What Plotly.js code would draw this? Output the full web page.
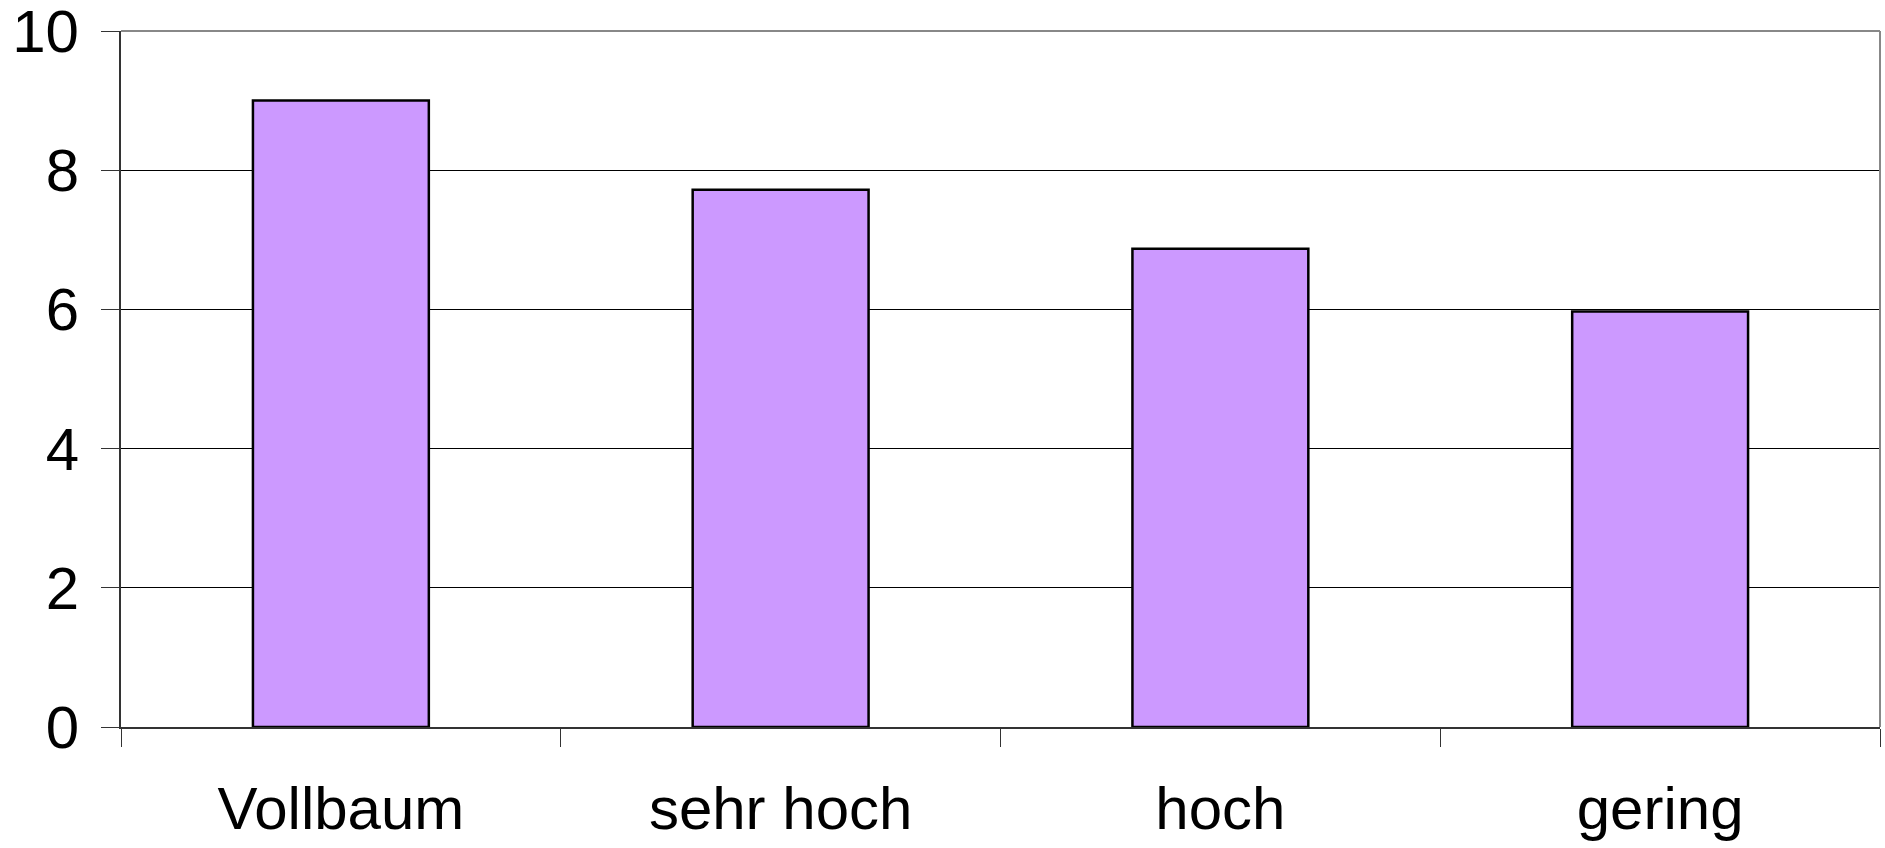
<!DOCTYPE html>
<html>
<head>
<meta charset="utf-8">
<script src="https://cdn.plot.ly/plotly-3.0.1.min.js"></script>
<style>html,body{margin:0;padding:0;background:#fff;}#chart{width:1885px;height:848px;}</style>
</head>
<body>
<div id="chart"></div>
<script>
var categories = ["Vollbaum", "sehr hoch", "hoch", "gering"];
var values = [9.0, 7.72, 6.87, 5.97];
var yTickValues = [0, 2, 4, 6, 8, 10];
var yTickLabels = ["0", "2", "4", "6", "8", "10"];

var trace = {
  type: "bar",
  x: categories,
  y: values,
  width: 0.4,
  marker: {color: "#CC99FF", line: {color: "#000000", width: 2.5}},
  hoverinfo: "x+y"
};

var layout = {
  width: 1885,
  height: 848,
  margin: {l: 121, r: 5, t: 31, b: 121, pad: 0},
  paper_bgcolor: "#ffffff",
  plot_bgcolor: "#ffffff",
  font: {family: "Liberation Sans, Arial, sans-serif", color: "#000000", size: 60},
  showlegend: false,
  bargap: 0.6,
  xaxis: {
    type: "category",
    tickson: "boundaries",
    ticks: "outside",
    ticklen: 18,
    tickwidth: 1,
    tickcolor: "#333333",
    showline: true,
    linecolor: "#333333",
    linewidth: 2,
    showgrid: false,
    zeroline: false,
    tickfont: {size: 60, family: "Liberation Sans, Arial, sans-serif", color: "#000"},
    ticklabelstandoff: 28,
    ticklabeloverflow: "allow"
  },
  yaxis: {
    range: [0, 10],
    tickmode: "array",
    tickvals: yTickValues,
    ticktext: yTickLabels,
    ticks: "outside",
    ticklen: 18,
    tickwidth: 1,
    tickcolor: "#333333",
    showline: true,
    linecolor: "#333333",
    linewidth: 2,
    showgrid: true,
    gridcolor: "#000000",
    gridwidth: 1,
    zeroline: false,
    tickfont: {size: 60, family: "Liberation Sans, Arial, sans-serif", color: "#000"},
    ticklabelstandoff: 10,
    ticklabeloverflow: "allow"
  },
  shapes: [
    {type: "line", xref: "paper", yref: "paper", x0: 0, x1: 1, y0: 1, y1: 1, line: {color: "#888888", width: 2}},
    {type: "line", xref: "paper", yref: "paper", x0: 1, x1: 1, y0: 0, y1: 1, line: {color: "#888888", width: 2}}
  ]
};

Plotly.newPlot("chart", [trace], layout, {displayModeBar: false, staticPlot: true});
</script>
</body>
</html>
